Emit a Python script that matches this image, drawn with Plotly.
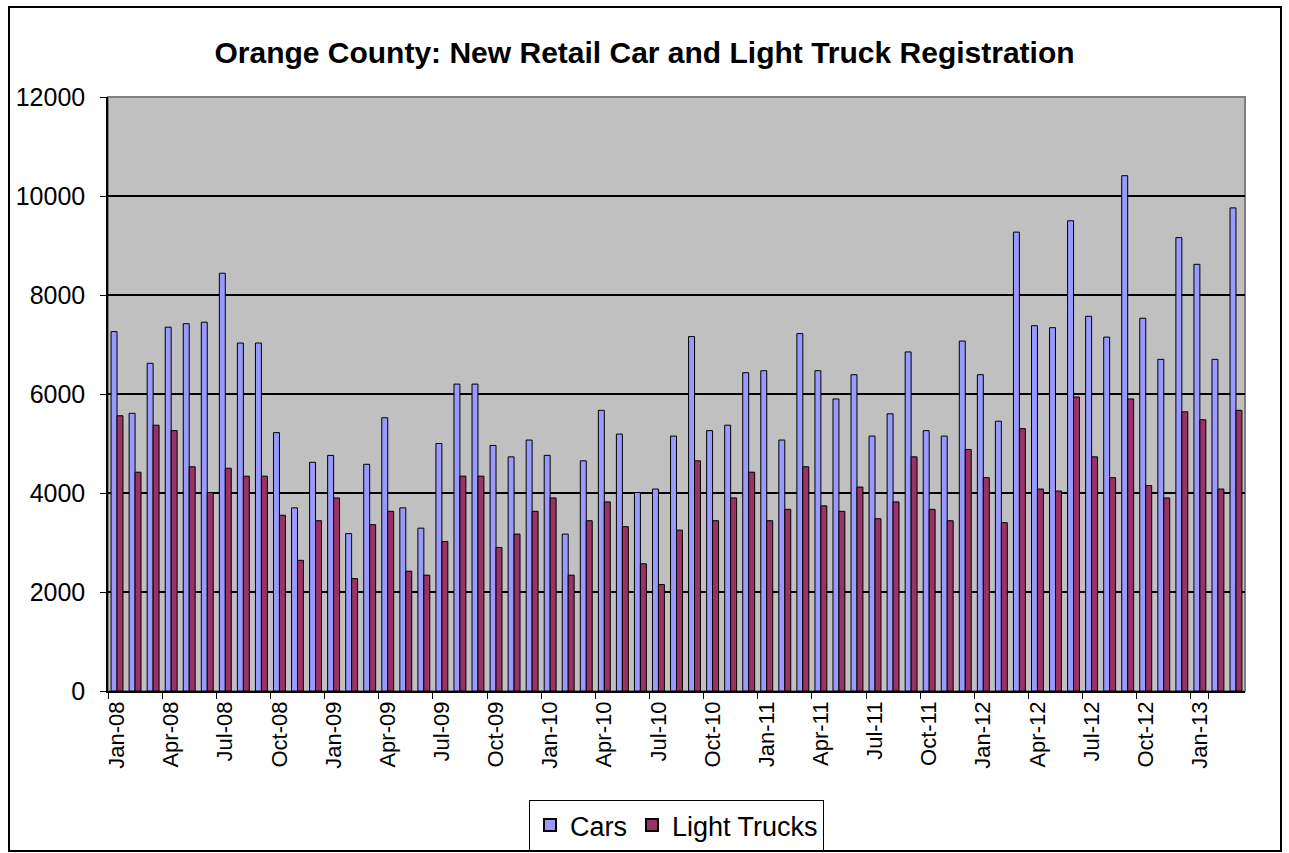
import plotly.graph_objects as go

months = ["Jan", "Feb", "Mar", "Apr", "May", "Jun", "Jul", "Aug", "Sep", "Oct", "Nov", "Dec"]
years = ["08", "09", "10", "11", "12", "13"]
categories = [f"{m}-{y}" for y in years for m in months][:63]

cars = [7260, 5610, 6620, 7350, 7420, 7450, 8440, 7030, 7030, 5220, 3700, 4620,
        4760, 3180, 4580, 5520, 3700, 3290, 5000, 6200, 6200, 4960, 4730, 5070,
        4760, 3170, 4650, 5670, 5190, 4010, 4080, 5150, 7160, 5260, 5370, 6430,
        6470, 5070, 7220, 6470, 5900, 6390, 5150, 5600, 6850, 5260, 5150, 7070,
        6390, 5450, 9270, 7380, 7340, 9500, 7570, 7150, 10410, 7530, 6700, 9160,
        8620, 6700, 9760]
trucks = [5560, 4420, 5370, 5260, 4530, 4010, 4500, 4340, 4340, 3550, 2640, 3440,
          3900, 2270, 3360, 3630, 2420, 2340, 3020, 4340, 4340, 2900, 3170, 3630,
          3900, 2340, 3440, 3820, 3320, 2570, 2150, 3250, 4650, 3440, 3900, 4420,
          3440, 3670, 4530, 3740, 3630, 4120, 3480, 3820, 4730, 3670, 3440, 4880,
          4310, 3400, 5300, 4080, 4040, 5940, 4730, 4310, 5900, 4150, 3900, 5640,
          5480, 4080, 5670]
y_ticks = [0, 2000, 4000, 6000, 8000, 10000, 12000]
y_ticktext = ["0", "2000", "4000", "6000", "8000", "10000", "12000"]

font_family = "Arial, Liberation Sans, sans-serif"

fig = go.Figure()
fig.add_trace(go.Bar(x=categories, y=cars, name="Cars",
                     marker=dict(color="#9999FF", line=dict(color="black", width=1))))
fig.add_trace(go.Bar(x=categories, y=trucks, name="Light Trucks",
                     marker=dict(color="#993366", line=dict(color="black", width=1))))

fig.update_layout(
    width=1289, height=853,
    margin=dict(l=108, r=44, t=97, b=162, autoexpand=False),
    paper_bgcolor="white", plot_bgcolor="#C0C0C0",
    barmode="group", bargap=0.34, bargroupgap=0,
    font=dict(family=font_family, color="black"),
    title=dict(text="<b>Orange County: New Retail Car and Light Truck Registration</b>",
               x=0.5, xref="container", xanchor="center",
               y=1 - 52 / 853, yanchor="middle",
               font=dict(size=30, family=font_family, color="black")),
    legend=dict(orientation="h", x=0.5, xanchor="center",
                yref="container", y=1 - 800 / 853, yanchor="top",
                bgcolor="white", bordercolor="black", borderwidth=1,
                font=dict(size=27, family=font_family), itemsizing="constant"),
    showlegend=True,
)

fig.update_xaxes(
    type="category", tickmode="array", tickvals=categories[::3], ticktext=categories[::3],
    tickangle=-90, tickson="boundaries", ticks="outside", ticklen=6, tickcolor="black",
    showline=True, linecolor="black", linewidth=1.5, showgrid=False,
    tickfont=dict(size=22, family=font_family), automargin=False,
)
fig.update_yaxes(
    range=[0, 12000], tickmode="array", tickvals=y_ticks, ticktext=y_ticktext,
    ticks="outside", ticklen=6, tickcolor="black",
    showline=True, linecolor="black", linewidth=1.5,
    showgrid=True, gridcolor="black", gridwidth=1.5,
    tickfont=dict(size=25, family=font_family), ticklabelstandoff=10,
    zeroline=False, automargin=False,
)

# plot area border (top/right gray) and outer chart frame
fig.add_shape(type="rect", xref="paper", yref="paper", x0=0, y0=0, x1=1, y1=1,
              line=dict(color="#808080", width=2), layer="below")
fig.add_shape(type="rect", xref="paper", yref="paper",
              x0=(9 - 108) / 1137, x1=(1281 - 108) / 1137,
              y0=(691 - 851) / 594, y1=(691 - 7) / 594,
              line=dict(color="black", width=2))

fig.write_html("out.html", config={"displayModeBar": False},
               post_script="document.body.style.margin='0px';document.body.style.overflow='hidden';")
